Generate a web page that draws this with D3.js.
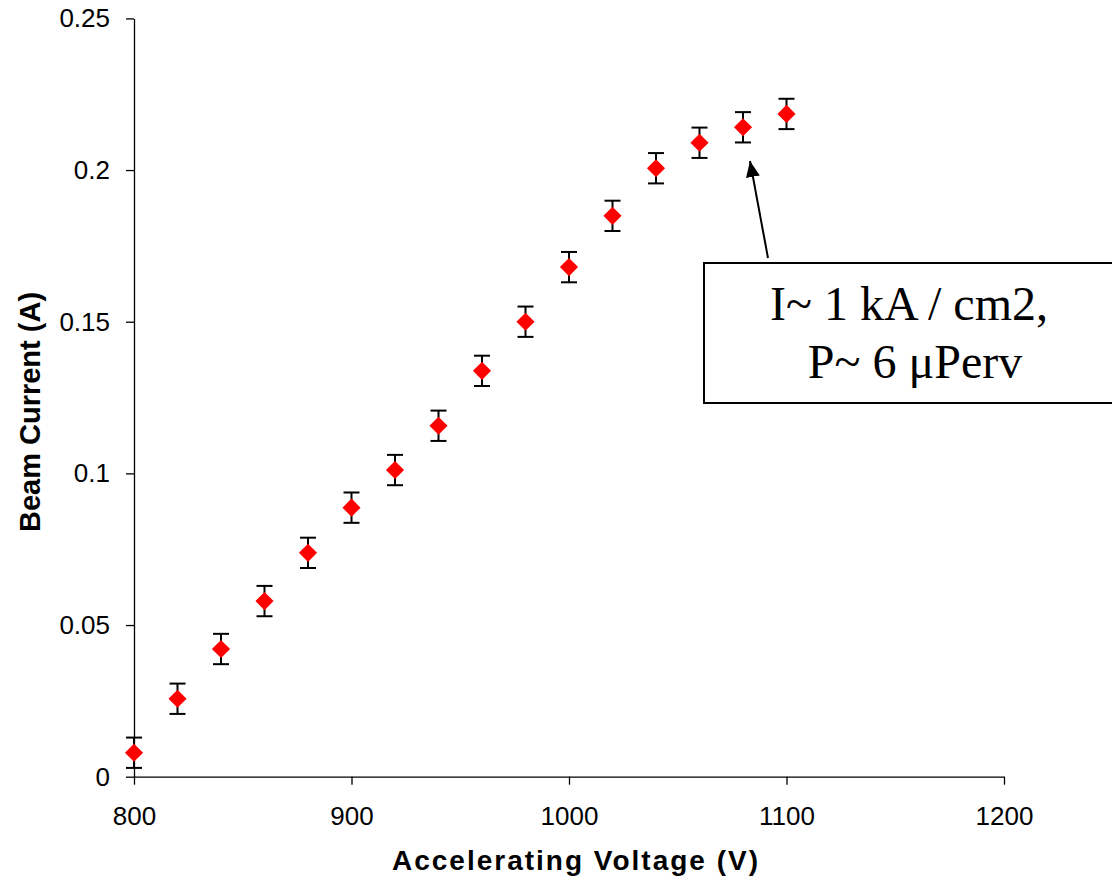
<!DOCTYPE html>
<html>
<head>
<meta charset="utf-8">
<script src="https://cdn.jsdelivr.net/npm/d3@7"></script>
<style>
  body { margin: 0; background: #fff; }
  svg { display: block; }
  .axis text { font-family: "Liberation Sans", Arial, sans-serif; font-size: 26px; fill: #000; }
  .axis path, .axis line { stroke: #000; stroke-width: 1.3; }
</style>
</head>
<body>
<div id="chart"></div>
<script>
// datos
const voltages = [800, 820, 840, 860, 880, 900, 920, 940, 960, 980, 1000, 1020, 1040, 1060, 1080, 1100];
const currents = [0.0079, 0.0257, 0.0421, 0.0579, 0.0738, 0.0887, 0.1011, 0.1157, 0.1338, 0.150, 0.168, 0.1849, 0.2006, 0.2090, 0.2141, 0.2185];
const errors = [0.005, 0.005, 0.005, 0.005, 0.005, 0.005, 0.005, 0.005, 0.005, 0.005, 0.005, 0.005, 0.005, 0.005, 0.005, 0.005];
const xTicks = [800, 900, 1000, 1100, 1200];
const yTicks = [0, 0.05, 0.1, 0.15, 0.2, 0.25];
const yTickLabels = ["0", "0.05", "0.1", "0.15", "0.2", "0.25"];
const noteLines = ["I~ 1 kA / cm2,", " P~ 6 \u03bcPerv"];

const W = 1112, H = 884;
const margin = {top: 18.4, right: 108, bottom: 107.3, left: 134};
const width = W - margin.left - margin.right;
const height = H - margin.top - margin.bottom;

const svg = d3.select("#chart").append("svg")
    .attr("width", W)
    .attr("height", H);

const g = svg.append("g")
    .attr("transform", "translate(" + margin.left + "," + margin.top + ")");

const x = d3.scaleLinear().domain([800, 1200]).range([0, width]);
const y = d3.scaleLinear().domain([0, 0.25]).range([height, 0]);

// ejes
g.append("g")
    .attr("class", "axis")
    .attr("transform", "translate(0," + height + ")")
    .call(d3.axisBottom(x).tickValues(xTicks).tickFormat(d3.format("d")).tickSize(8).tickSizeOuter(0).tickPadding(22));

g.append("g")
    .attr("class", "axis")
    .call(d3.axisLeft(y).tickValues(yTicks).tickFormat((d, i) => yTickLabels[i]).tickSize(8).tickSizeOuter(0).tickPadding(16));

// titulos de ejes
svg.append("text")
    .attr("x", 576)
    .attr("y", 870)
    .attr("text-anchor", "middle")
    .style("font-family", "'Liberation Sans', Arial, sans-serif")
    .style("font-size", "28px")
    .style("font-weight", "bold")
    .style("letter-spacing", "2px")
    .text("Accelerating Voltage (V)");

svg.append("text")
    .attr("transform", "translate(40,412) rotate(-90)")
    .attr("text-anchor", "middle")
    .style("font-family", "'Liberation Sans', Arial, sans-serif")
    .style("font-size", "29px")
    .style("font-weight", "bold")
    .text("Beam Current (A)");

const pts = voltages.map((v, i) => ({v: v, c: currents[i], e: errors[i]}));

// barras de error
const eb = g.append("g").attr("stroke", "#000").attr("stroke-width", 2);
eb.selectAll(".err").data(pts).enter().append("line")
    .attr("x1", d => x(d.v)).attr("x2", d => x(d.v))
    .attr("y1", d => y(d.c - d.e)).attr("y2", d => y(d.c + d.e));
eb.selectAll(".capTop").data(pts).enter().append("line")
    .attr("x1", d => x(d.v) - 8).attr("x2", d => x(d.v) + 8)
    .attr("y1", d => y(d.c + d.e)).attr("y2", d => y(d.c + d.e));
eb.selectAll(".capBot").data(pts).enter().append("line")
    .attr("x1", d => x(d.v) - 8).attr("x2", d => x(d.v) + 8)
    .attr("y1", d => y(d.c - d.e)).attr("y2", d => y(d.c - d.e));

// rombos rojos
g.selectAll(".pt").data(pts).enter().append("path")
    .attr("d", d3.symbol().type(d3.symbolDiamond2).size(210))
    .attr("transform", d => "translate(" + x(d.v) + "," + y(d.c) + ")")
    .attr("fill", "#ff0000");

// anotacion
svg.append("defs").append("marker")
    .attr("id", "arrow")
    .attr("viewBox", "0 0 10 10")
    .attr("refX", 10).attr("refY", 5)
    .attr("markerWidth", 16).attr("markerHeight", 14)
    .attr("markerUnits", "userSpaceOnUse")
    .attr("orient", "auto")
    .attr("preserveAspectRatio", "none")
    .append("path")
    .attr("d", "M0,0 L10,5 L0,10 z")
    .attr("fill", "#000");

svg.append("line")
    .attr("x1", 768).attr("y1", 258)
    .attr("x2", 750).attr("y2", 161)
    .attr("stroke", "#000").attr("stroke-width", 2)
    .attr("marker-end", "url(#arrow)");

svg.append("rect")
    .attr("x", 704).attr("y", 263)
    .attr("width", 410).attr("height", 140)
    .attr("fill", "#fff")
    .attr("stroke", "#000").attr("stroke-width", 2);

svg.selectAll(".note").data(noteLines).enter().append("text")
    .attr("x", 909)
    .attr("y", (d, i) => 320 + i * 58)
    .attr("text-anchor", "middle")
    .attr("xml:space", "preserve")
    .style("white-space", "pre")
    .style("font-family", "'Liberation Serif', 'Times New Roman', serif")
    .style("font-size", "48px")
    .text(d => d);
</script>
</body>
</html>
